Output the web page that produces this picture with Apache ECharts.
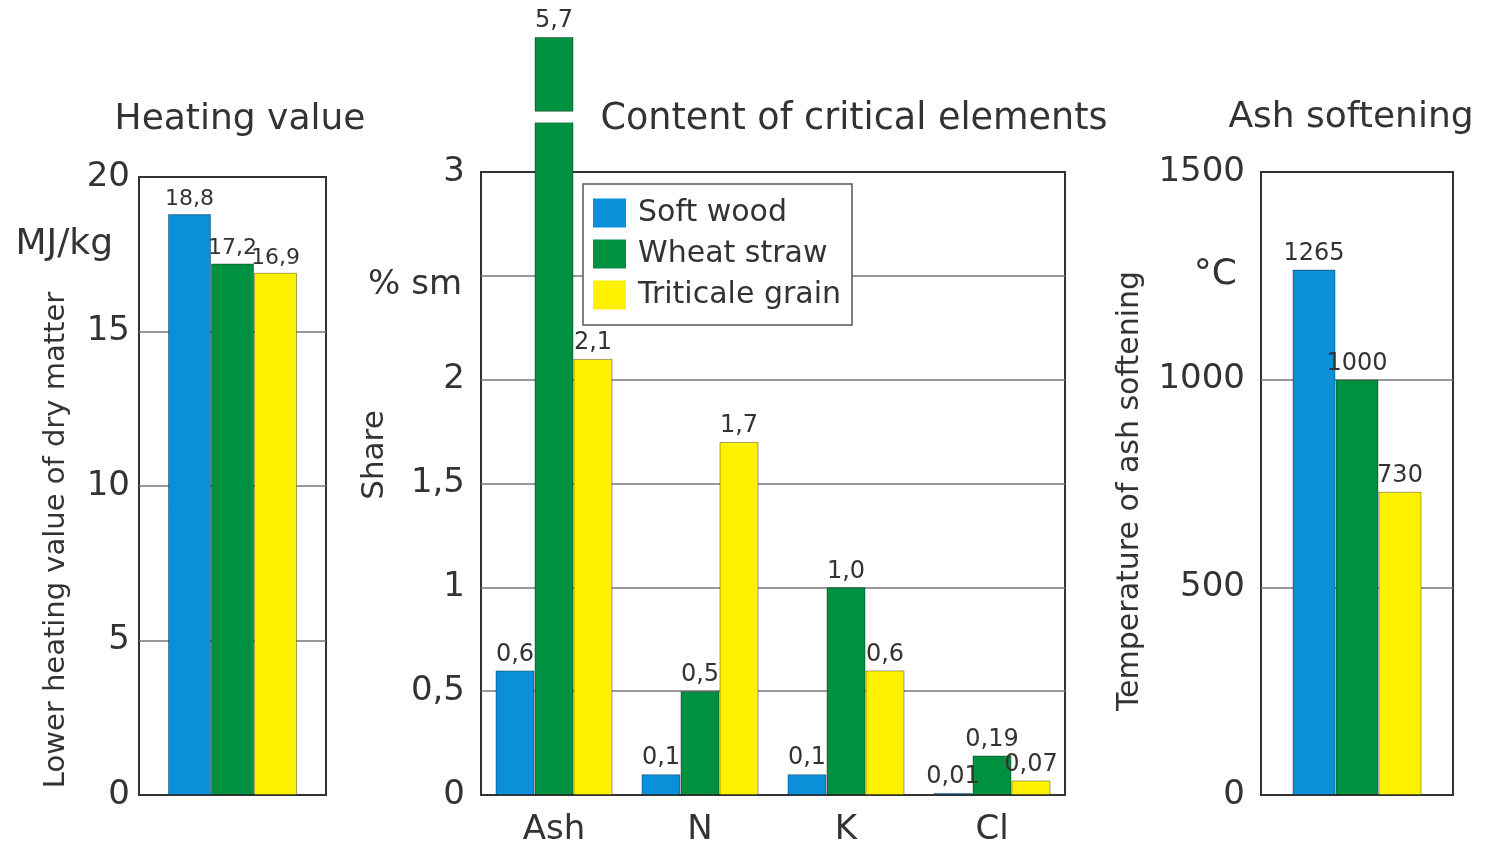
<!DOCTYPE html>
<html>
<head>
<meta charset="utf-8">
<script src="https://cdn.jsdelivr.net/npm/echarts@6/dist/echarts.min.js"></script>
<style>
  html, body { margin: 0; padding: 0; background: #fff; }
  #chartContainer { width: 1489px; height: 848px; }
</style>
</head>
<body>
<div id="chartContainer"></div>
<script>
// data
const seriesNames = ['Soft wood', 'Wheat straw', 'Triticale grain'];
const heatingValue = [18.8, 17.2, 16.9];      // MJ/kg, one bar per series
const elementCats = ['Ash', 'N', 'K', 'Cl'];
const softWood = [0.6, 0.1, 0.1, 0.01];       // % sm
const wheatStraw = [5.7, 0.5, 1.0, 0.19];
const triticale = [2.1, 1.7, 0.6, 0.07];
const ashSoftening = [1265, 1000, 730];       // deg C

const colors = ['#0a8fd9', '#009140', '#fff200'];
const font = 'DejaVu Sans';
const textColor = '#333';

// bars taller than the axis are drawn broken above the frame
const AX_MAX = 3;
const BREAK_LO = 3.24;
const BREAK_HI = 3.29;
const SHOW_TOP = 3.65;

function fmt(v) {
    const s = Math.round(v * 10) === v * 10 ? v.toFixed(1) : String(v);
    return s.replace('.', ',');
}

const barBorder = { borderColor: 'rgba(0,0,0,0.35)', borderWidth: 1 };
function valueLabel(size, fmtFn) {
    return { show: true, position: 'top', distance: 4, fontFamily: font, fontSize: size, color: textColor, formatter: fmtFn };
}

function yAxisBase(idx, max, interval, margin, fmtFn) {
    return {
        gridIndex: idx, type: 'value', min: 0, max: max, interval: interval,
        axisLine: { show: false }, axisTick: { show: false },
        axisLabel: { margin: margin, fontFamily: font, fontSize: 34, color: textColor, formatter: fmtFn },
        splitLine: { show: true, showMinLine: false, showMaxLine: false, lineStyle: { color: '#777', width: 1.5 } }
    };
}

function xAxisBase(idx, data, showLabel) {
    return {
        gridIndex: idx, type: 'category', data: data,
        axisLine: { show: false }, axisTick: { show: false },
        axisLabel: { show: showLabel, margin: 18, fontFamily: font, fontSize: 34, color: textColor }
    };
}

// heating + ash softening panels: one category, three bars
function singleBars(values, gridIdx, size, fmtFn) {
    return values.map((v, i) => ({
        name: seriesNames[i], type: 'bar', xAxisIndex: gridIdx, yAxisIndex: gridIdx,
        data: [v], barWidth: 43, barGap: 0,
        itemStyle: Object.assign({ color: colors[i] }, barBorder),
        label: valueLabel(size, p => fmtFn(p.value))
    }));
}

// wheat straw split in three stacked pieces so the broken bar can show its gap
const wheatLower = wheatStraw.map(v => ({
    value: v > AX_MAX ? BREAK_LO : v,
    label: { show: v <= AX_MAX }
}));
const wheatGap = wheatStraw.map(v => v > AX_MAX ? BREAK_HI - BREAK_LO : '-');
const wheatUpper = wheatStraw.map(v => v > AX_MAX ? SHOW_TOP - BREAK_HI : '-');

const elemSeries = [
    {
        name: 'Soft wood', type: 'bar', xAxisIndex: 1, yAxisIndex: 1, data: softWood,
        barWidth: 39, barGap: 0,
        itemStyle: Object.assign({ color: colors[0] }, barBorder),
        label: valueLabel(24, p => fmt(softWood[p.dataIndex]))
    },
    {
        name: 'Wheat straw', type: 'bar', xAxisIndex: 1, yAxisIndex: 1, data: wheatLower,
        stack: 'wheat', barWidth: 39, barGap: 0, clip: false,
        itemStyle: Object.assign({ color: colors[1] }, barBorder),
        label: valueLabel(24, p => fmt(wheatStraw[p.dataIndex]))
    },
    {
        name: 'gap', type: 'bar', xAxisIndex: 1, yAxisIndex: 1, data: wheatGap,
        stack: 'wheat', barWidth: 39, barGap: 0, clip: false,
        itemStyle: { color: '#fff' }, silent: true
    },
    {
        name: 'Wheat straw', type: 'bar', xAxisIndex: 1, yAxisIndex: 1, data: wheatUpper,
        stack: 'wheat', barWidth: 39, barGap: 0, clip: false,
        itemStyle: Object.assign({ color: colors[1] }, barBorder),
        label: valueLabel(24, p => fmt(wheatStraw[p.dataIndex]))
    },
    {
        name: 'Triticale grain', type: 'bar', xAxisIndex: 1, yAxisIndex: 1, data: triticale,
        barWidth: 39, barGap: 0,
        itemStyle: Object.assign({ color: colors[2] }, barBorder),
        label: valueLabel(24, p => fmt(triticale[p.dataIndex]))
    }
];

function txt(text, x, y, size, align, rotate) {
    return {
        type: 'text', x: x, y: y, rotation: rotate ? Math.PI / 2 : 0, z: 10,
        style: { text: text, fontFamily: font, fontSize: size, fill: textColor, align: align, verticalAlign: 'middle' }
    };
}

const frame = { show: true, borderColor: '#333', borderWidth: 2, backgroundColor: 'transparent' };

const option = {
    animation: false,
    backgroundColor: '#fff',
    color: colors,
    grid: [
        Object.assign({ left: 139, top: 177, width: 187, height: 618 }, frame),
        Object.assign({ left: 481, top: 172, width: 584, height: 623 }, frame),
        Object.assign({ left: 1261, top: 172, width: 192, height: 623 }, frame)
    ],
    xAxis: [
        xAxisBase(0, [''], false),
        xAxisBase(1, elementCats, true),
        xAxisBase(2, [''], false)
    ],
    yAxis: [
        yAxisBase(0, 20, 5, 9, v => String(v)),
        yAxisBase(1, 3, 0.5, 16, v => v === 2.5 ? '' : String(v).replace('.', ',')),
        yAxisBase(2, 1500, 500, 16, v => String(v))
    ],
    legend: {
        data: seriesNames,
        orient: 'vertical', left: 583, top: 184,
        padding: [14, 11, 15, 10], itemGap: 11,
        itemWidth: 33, itemHeight: 29, icon: 'rect',
        backgroundColor: '#fff', borderColor: '#555', borderWidth: 1.5, borderRadius: 0,
        itemStyle: { borderWidth: 0 },
        textStyle: { fontFamily: font, fontSize: 30, color: textColor, padding: [0, 0, 0, 7] }
    },
    graphic: [
        txt('Heating value', 240, 120, 36, 'center'),
        txt('Content of critical elements', 854, 120, 36.5, 'center'),
        txt('Ash softening', 1351, 118, 36, 'center'),
        txt('MJ/kg', 113, 245, 36, 'right'),
        txt('% sm', 462, 285, 34, 'right'),
        txt('°C', 1237, 275, 36, 'right'),
        txt('Lower heating value of dry matter', 56, 540, 29, 'center', true),
        txt('Share', 375, 455, 31, 'center', true),
        txt('Temperature of ash softening', 1130, 491, 30, 'center', true)
    ],
    series: [].concat(
        singleBars(heatingValue, 0, 22, fmt),
        elemSeries,
        singleBars(ashSoftening, 2, 24, v => String(v))
    )
};

const myChart = echarts.init(document.getElementById('chartContainer'));
myChart.setOption(option);
</script>
</body>
</html>
